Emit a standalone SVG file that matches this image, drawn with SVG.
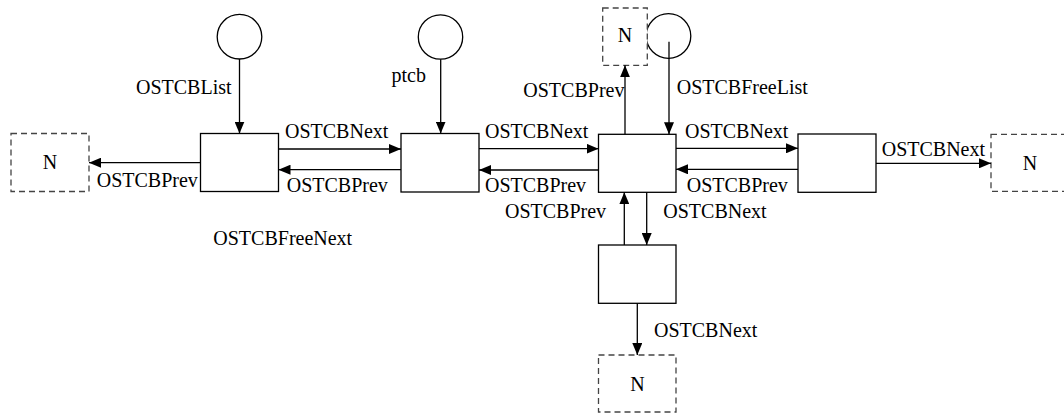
<svg xmlns="http://www.w3.org/2000/svg" width="1064" height="414" viewBox="0 0 1064 414">
<style>
.box{fill:#fff;stroke:#000;stroke-width:1.3}
.dash{fill:#fff;stroke:#444;stroke-width:1.3;stroke-dasharray:6 4}
.circ{fill:#fff;stroke:#000;stroke-width:1.3}
.ln{fill:none;stroke:#000;stroke-width:1.3;marker-end:url(#ah)}
.t{font-family:'Liberation Serif','Times New Roman',Tinos,'DejaVu Serif',serif;font-size:20px;fill:#000}
.c{text-anchor:middle}
</style>
<defs>
<marker id="ah" viewBox="0 0 12 10" refX="12" refY="5" markerWidth="12" markerHeight="10" markerUnits="userSpaceOnUse" orient="auto">
<path d="M0,0 L12,5 L0,10 z" fill="#000"/>
</marker>
</defs>
<rect width="1064" height="414" fill="#fff"/>
<g id="headList"><circle class="circ" cx="239.5" cy="36.7" r="22.3"/></g>
<g id="ptcbPtr"><circle class="circ" cx="440.5" cy="37" r="22.2"/></g>
<g id="freeList"><circle class="circ" cx="668.5" cy="36" r="22.3"/></g>
<g id="nLeft"><rect class="dash" x="11" y="133.5" width="78" height="58"/><text class="t c" x="50" y="169">N</text></g>
<g id="tcb1"><rect class="box" x="200.5" y="133.5" width="78" height="58"/></g>
<g id="tcb2"><rect class="box" x="401" y="133.5" width="78" height="58.5"/></g>
<g id="tcb3"><rect class="box" x="598.5" y="134.3" width="77.5" height="58"/></g>
<g id="nTop"><rect class="dash" x="602.7" y="8" width="44.6" height="57.3"/><text class="t c" x="625" y="42">N</text></g>
<g id="tcb4"><rect class="box" x="798" y="134" width="78" height="58.3"/></g>
<g id="nRight"><rect class="dash" x="991" y="134.3" width="80" height="57"/><text class="t c" x="1030" y="170">N</text></g>
<g id="tcb5"><rect class="box" x="598.5" y="245" width="77.5" height="58.3"/></g>
<g id="nBottom"><rect class="dash" x="598.5" y="355" width="77.5" height="57"/><text class="t c" x="637.5" y="391">N</text></g>
<g id="connectors">
<line class="ln" x1="239.5" y1="59" x2="239.5" y2="133.5"/>
<line class="ln" x1="440.7" y1="59.2" x2="440.7" y2="133.5"/>
<line class="ln" x1="669" y1="41.7" x2="669" y2="134.3"/>
<line class="ln" x1="200.5" y1="162.7" x2="89" y2="162.7"/>
<line class="ln" x1="278.5" y1="149" x2="401" y2="149"/>
<line class="ln" x1="401" y1="169.7" x2="278.5" y2="169.7"/>
<line class="ln" x1="479" y1="148.7" x2="598.5" y2="148.7"/>
<line class="ln" x1="598.5" y1="170" x2="479" y2="170"/>
<line class="ln" x1="625" y1="134.3" x2="625" y2="65.3"/>
<line class="ln" x1="676" y1="148.3" x2="798" y2="148.3"/>
<line class="ln" x1="798" y1="169.3" x2="676" y2="169.3"/>
<line class="ln" x1="876" y1="163.3" x2="991" y2="163.3"/>
<line class="ln" x1="624.3" y1="245" x2="624.3" y2="192.3"/>
<line class="ln" x1="646.7" y1="192.3" x2="646.7" y2="245"/>
<line class="ln" x1="637.3" y1="303.3" x2="637.3" y2="355"/>
</g>
<g id="labels" class="t">
<text class="t" x="136" y="94">OSTCBList</text>
<text class="t" x="391.5" y="81.7">ptcb</text>
<text class="t" x="676.7" y="94">OSTCBFreeList</text>
<text class="t" x="96.7" y="186.7">OSTCBPrev</text>
<text class="t" x="285" y="138.3">OSTCBNext</text>
<text class="t" x="286.7" y="191.7">OSTCBPrev</text>
<text class="t" x="485" y="137.7">OSTCBNext</text>
<text class="t" x="485" y="192">OSTCBPrev</text>
<text class="t" x="523.3" y="96.7">OSTCBPrev</text>
<text class="t" x="685" y="138.3">OSTCBNext</text>
<text class="t" x="686.7" y="191.7">OSTCBPrev</text>
<text class="t" x="881.7" y="156">OSTCBNext</text>
<text class="t" x="213.3" y="245">OSTCBFreeNext</text>
<text class="t" x="505" y="218.3">OSTCBPrev</text>
<text class="t" x="663.3" y="218">OSTCBNext</text>
<text class="t" x="654" y="336.7">OSTCBNext</text>
</g>
</svg>
